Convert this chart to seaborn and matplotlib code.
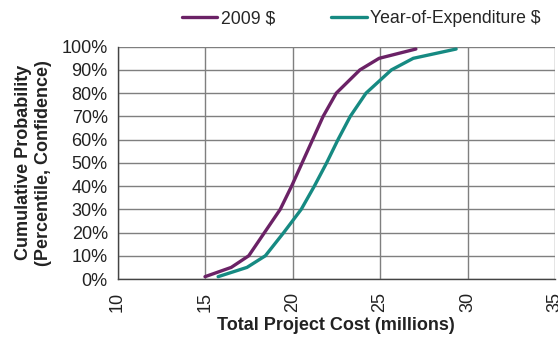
import numpy as np
import pandas as pd
import matplotlib
matplotlib.use("Agg")
import matplotlib.pyplot as plt
import seaborn as sns
from matplotlib.ticker import PercentFormatter

# Cumulative probability levels (percentile / confidence)
prob = [0.01, 0.05, 0.10, 0.20, 0.30, 0.40, 0.50, 0.60, 0.70, 0.80, 0.90, 0.95, 0.99]

# Total project cost (millions) at each probability level
cost_2009 = [15.0, 16.5, 17.5, 18.4, 19.3, 19.95, 20.55, 21.15, 21.75, 22.5, 23.85, 24.95, 27.05]
cost_yoe = [15.75, 17.4, 18.45, 19.5, 20.5, 21.25, 21.95, 22.6, 23.3, 24.2, 25.65, 26.9, 29.35]

series_names = ["2009 $", "Year-of-Expenditure $"]
colors = ["#6b2266", "#168a82"]

df = pd.DataFrame({
    "cost": cost_2009 + cost_yoe,
    "prob": prob + prob,
    "series": [series_names[0]] * len(prob) + [series_names[1]] * len(prob),
})

sns.set_style("white")
plt.rcParams["font.family"] = ["Liberation Sans", "DejaVu Sans"]

fig = plt.figure(figsize=(5.58, 3.43), dpi=100)
ax = fig.add_axes([117.5 / 558, 1 - 279 / 343, (555 - 117.5) / 558, (279 - 46.7) / 343])

sns.lineplot(data=df, x="cost", y="prob", hue="series", palette=colors,
             linewidth=2.4, sort=False, ax=ax, legend=True)

ax.set_xlim(10, 35)
ax.set_ylim(0, 1)
ax.set_xticks(np.arange(10, 36, 5))
ax.set_yticks(np.arange(0, 1.01, 0.1))
ax.yaxis.set_major_formatter(PercentFormatter(1.0, decimals=0))

ax.grid(True, color="#7f7f7f", linewidth=1.0)
ax.set_axisbelow(True)
for side in ["top", "right"]:
    ax.spines[side].set_visible(False)
for side in ["left", "bottom"]:
    ax.spines[side].set_color("#444444")
    ax.spines[side].set_linewidth(1.0)

ax.tick_params(axis="both", which="major", length=5, width=1, color="#444444",
               labelsize=13, labelcolor="#222222", direction="out", pad=2)
ax.tick_params(axis="x", labelrotation=90, pad=4)

ax.set_xlabel("Total Project Cost (millions)", fontsize=13, fontweight="bold",
              color="#222222", labelpad=4)
ax.set_ylabel("Cumulative Probability\n(Percentile, Confidence)", fontsize=13,
              fontweight="bold", color="#222222", labelpad=7, linespacing=1.2)

handles, labels = ax.get_legend_handles_labels()
ax.legend(handles, labels, loc="lower center", bbox_to_anchor=(0.557, 1.03), ncol=2,
          frameon=False, fontsize=12.7, handlelength=2.0, handletextpad=0.2,
          columnspacing=3.2, borderaxespad=0.3)

fig.savefig("out.png", dpi=100)
